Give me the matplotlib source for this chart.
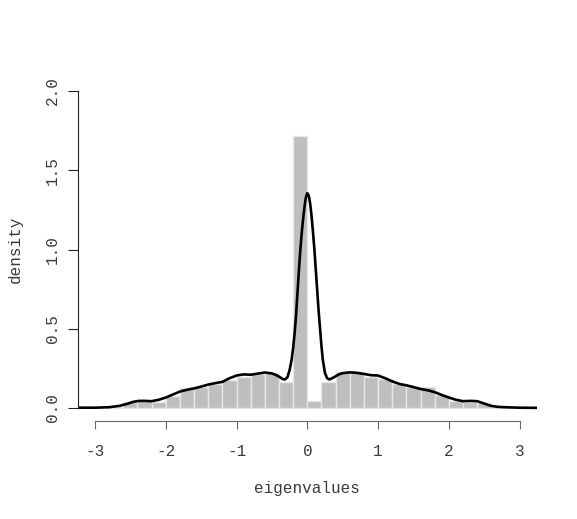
import matplotlib
matplotlib.use("Agg")
import matplotlib.pyplot as plt

plt.rcParams['font.family'] = ['Liberation Mono', 'DejaVu Sans Mono']
plt.rcParams['axes.unicode_minus'] = False

# Histogram (density scale), bins of width 0.2
bin_left = [-2.8, -2.6, -2.4, -2.2, -2.0, -1.8, -1.6, -1.4, -1.2, -1.0,
            -0.8, -0.6, -0.4, -0.2, 0.0, 0.2, 0.4, 0.6, 0.8, 1.0,
            1.2, 1.4, 1.6, 1.8, 2.0, 2.2, 2.4, 2.6]
bin_density = [0.004, 0.035, 0.044, 0.040, 0.076, 0.125, 0.130, 0.150, 0.177, 0.198,
               0.216, 0.223, 0.166, 1.716, 0.044, 0.166, 0.225, 0.225, 0.196, 0.183,
               0.153, 0.135, 0.130, 0.082, 0.044, 0.040, 0.030, 0.004]
bin_width = 0.2

# Kernel density estimate
kde_x = [-3.24, -3.0, -2.8, -2.65, -2.55, -2.45, -2.38, -2.3, -2.2, -2.1,
         -2.0, -1.9, -1.8, -1.7, -1.6, -1.5, -1.4, -1.3, -1.2, -1.1,
         -1.0, -0.9, -0.8, -0.7, -0.6, -0.5, -0.45, -0.4, -0.35, -0.315,
         -0.28, -0.25, -0.22, -0.20, -0.18, -0.16, -0.14, -0.12, -0.10, -0.08,
         -0.06, -0.04, -0.02, 0.0, 0.02, 0.04, 0.06, 0.08, 0.10, 0.12,
         0.14, 0.16, 0.18, 0.20, 0.22, 0.25, 0.28, 0.31, 0.35, 0.40,
         0.45, 0.5, 0.6, 0.7, 0.8, 0.9, 1.0, 1.1, 1.2, 1.3,
         1.4, 1.5, 1.6, 1.7, 1.8, 1.9, 2.0, 2.1, 2.2, 2.3,
         2.4, 2.5, 2.6, 2.7, 2.85, 3.0, 3.245]
kde_y = [0.002, 0.002, 0.005, 0.014, 0.026, 0.040, 0.045, 0.045, 0.043, 0.052,
         0.066, 0.085, 0.104, 0.115, 0.124, 0.135, 0.148, 0.157, 0.165, 0.188,
         0.205, 0.212, 0.210, 0.217, 0.224, 0.218, 0.210, 0.198, 0.183, 0.180,
         0.195, 0.240, 0.310, 0.380, 0.470, 0.580, 0.720, 0.860, 0.990, 1.100,
         1.190, 1.270, 1.330, 1.355, 1.340, 1.290, 1.210, 1.110, 1.000, 0.870,
         0.740, 0.610, 0.500, 0.390, 0.300, 0.220, 0.188, 0.180, 0.188, 0.200,
         0.213, 0.220, 0.225, 0.222, 0.215, 0.207, 0.205, 0.188, 0.168, 0.152,
         0.143, 0.132, 0.120, 0.112, 0.100, 0.082, 0.066, 0.052, 0.043, 0.045,
         0.043, 0.028, 0.013, 0.007, 0.004, 0.002, 0.001]

x_ticks = [-3, -2, -1, 0, 1, 2, 3]
x_ticklabels = ['-3', '-2', '-1', '0', '1', '2', '3']
y_ticks = [0.0, 0.5, 1.0, 1.5, 2.0]
y_ticklabels = ['0.0', '0.5', '1.0', '1.5', '2.0']

TXT = '#3a3a3a'
W, H = 577, 519
fig = plt.figure(figsize=(W / 100, H / 100), dpi=100)
ax = fig.add_axes([78 / W, (H - 420.7) / H, (537 - 78) / W, (420.7 - 78.3) / H])

ax.bar(bin_left, bin_density, width=bin_width, align='edge',
       color='#bebebe', edgecolor='#e6e6e6', linewidth=1.0, zorder=1)
ax.plot(kde_x, kde_y, color='black', linewidth=1.9, zorder=2,
        solid_joinstyle='round', solid_capstyle='round')

ax.set_xlim(-3.24, 3.245)
ax.set_ylim(-0.08, 2.08)

for s in ['top', 'right']:
    ax.spines[s].set_visible(False)
ax.spines['left'].set_bounds(0, 2)
ax.spines['bottom'].set_bounds(-3, 3)
ax.spines['left'].set_color('#222222')
ax.spines['bottom'].set_color('#666666')
ax.spines['left'].set_linewidth(0.8)
ax.spines['bottom'].set_linewidth(0.8)

ax.set_xticks(x_ticks)
ax.set_xticklabels(x_ticklabels)
ax.set_yticks(y_ticks)
ax.set_yticklabels(y_ticklabels, rotation=90, va='center')
ax.tick_params(axis='x', length=6, width=0.8, color='#666666', pad=11, labelsize=11.5, labelcolor=TXT)
ax.tick_params(axis='y', length=7, width=0.8, color='#222222', pad=6, labelsize=11.5, labelcolor=TXT)

fig.text(307 / W, 1 - 489 / H, 'eigenvalues', ha='center', va='center', fontsize=11.5, color=TXT)
fig.text(15 / W, 1 - 249 / H, 'density', ha='center', va='center', rotation=90, fontsize=11.5, color=TXT)

fig.savefig('out.png', dpi=100, facecolor='white')
